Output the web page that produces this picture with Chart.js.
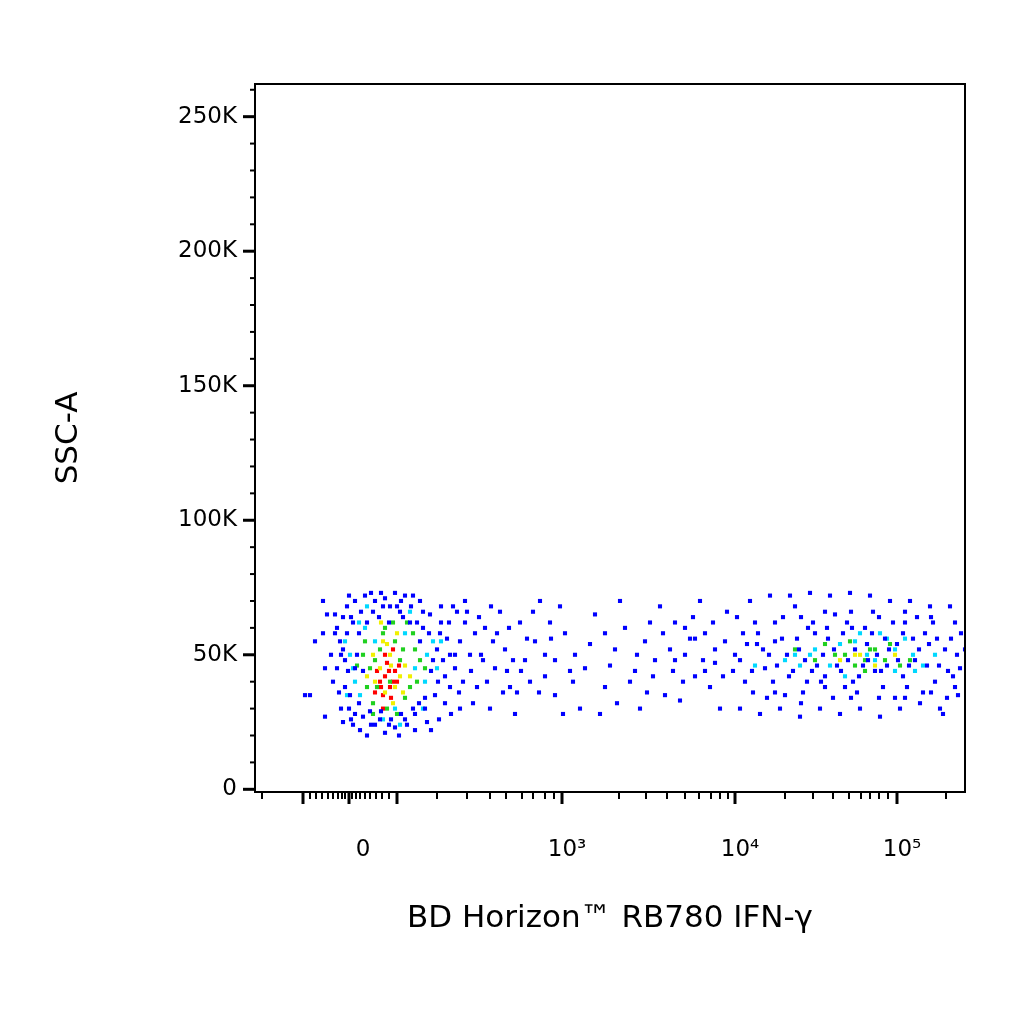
<!DOCTYPE html>
<html>
<head>
<meta charset="utf-8">
<script src="https://cdn.jsdelivr.net/npm/chart.js@4"></script>
<style>
	html, body { margin: 0; padding: 0; background: #fff; }
</style>
</head>
<body>
<canvas id="plot" width="1024" height="1024"></canvas>
<script>
// x is in display channels of the biexponential axis, y (SSC-A) in thousands
const blueDots = [
	[80,65],[85,55],[90,48],[78,40],[95,35],[100,28],[88,25],[105,22],[112,20],[120,24],[130,21],[140,23],[150,26],[160,28],[170,30],[180,35],[190,42],[195,50],[185,58],[175,65],[165,70],[150,72],[140,73],[130,71],[120,70],[110,72],[100,70],[92,68],[82,60],[76,50],[70,45],[68,58],[72,65],[98,62],[104,58],[155,62],[165,55],[178,48],[183,40],[172,25],[160,22],[98,24],[86,30],[200,45],[205,55],[210,62],[198,68],[190,32],[195,38],[208,40],[215,50],[220,58],[212,66],[205,30],[93,44],[84,36],[100,45],[106,66],[145,66],[152,24],[125,26],[115,29],[135,68],
	[50,35],[55,35],[70,27],[68,70],[60,55],
	[88,52],[92,58],[96,64],[102,50],[108,44],[112,62],[118,66],[124,64],[128,68],[134,62],[142,68],[148,64],[156,68],[162,62],[168,60],[174,58],[182,52],[188,48],[176,44],[170,34],[164,32],[158,30],[146,28],[136,26],[126,29],[116,24],[108,27],[94,30],[90,38],[82,45],[86,50],[80,58],[88,64],[94,72],[116,73],[126,73],[146,70],[158,72],[168,66],[186,62],[192,56],[200,50],[204,36],[196,28],[184,26],[176,22],[144,20],[134,24],[104,32],[96,26],[186,68],[194,62],[202,66],[210,70],[216,44],[222,38],[228,48],[224,64],[218,32],[232,40],[236,68],[242,58],[248,36],[254,60],[258,48],[266,44],[272,56],[278,66],[284,36],[296,56],
	[230,60],[240,45],[250,52],[255,38],[265,62],[270,48],[280,55],[290,42],[300,35],[310,58],[320,50],[330,45],[340,65],[350,38],[360,52],[370,60],[380,44],[390,55],[400,48],[410,35],[420,62],[430,50],[440,42],[450,58],[460,47],[470,55],[235,30],[260,28],[285,70],[305,68],[325,30],[345,28],[365,70],[385,30],[405,68],[425,33],[445,70],[465,30],[275,40],[295,62],[315,44],[335,54],[355,46],[375,40],[395,62],[415,52],[435,56],[455,38],[245,66],[300,48],[318,40],[350,58],[382,50],[398,42],[408,58],[418,44],[428,40],[438,64],[448,48],[458,62],[468,42],[472,66],[226,50],[238,55],[252,44],[262,36],[290,50],[308,28],[362,32],[392,36],
	[480,50],[490,40],[500,62],[510,45],[520,55],[530,35],[540,68],[550,48],[560,58],[570,42],[580,65],[590,38],[600,52],[610,60],[620,44],[630,56],[640,34],[650,66],[660,48],[670,58],[680,40],[690,52],[700,62],[705,45],[485,30],[495,70],[505,28],[515,72],[525,30],[535,72],[545,27],[555,73],[565,30],[575,72],[585,28],[595,73],[605,30],[615,72],[625,27],[635,70],[645,30],[655,70],[665,32],[675,68],[685,30],[695,68],[703,35],[710,52],[688,28],[692,34],[478,44],[488,58],[498,36],[508,52],[518,40],[528,64],[538,44],[548,36],[558,62],[568,50],[578,34],[588,58],[598,40],[608,46],[618,66],[628,38],[638,62],[648,42],[658,56],[668,36],[678,62],[698,42],[482,64],[502,54],[512,34],[532,50],[542,56],[552,40],[562,46],[572,60],[582,46],[592,62],[602,36],[612,54],[622,50],[632,46],[642,54],[652,38],[662,64],[672,46],[682,56],[696,56],[706,58],
	[485,48],[492,54],[497,44],[503,58],[514,50],[522,46],[527,56],[534,42],[544,52],[553,60],[557,44],[566,40],[573,56],[579,52],[586,44],[593,48],[597,60],[604,42],[613,48],[617,58],[626,44],[634,52],[643,48],[648,58],[654,46],[664,52],[674,54],[684,46],[693,44],[702,50],[520,62],[546,64],[570,66],[596,66],[624,64],[650,62],[676,64],[520,36],[546,32],[570,38],[596,34],[624,34],[650,34],[676,36],[700,38],[460,52],[450,44],[440,56],[430,60],[420,48],
]
const cyanDots = [
	[95,50],[110,60],[150,58],[160,45],[105,35],[170,40],[140,30],[120,55],[178,55],[100,40],
	[90,55],[98,45],[112,68],[128,26],[155,66],[172,50],[182,45],[104,62],[168,30],[92,35],[186,55],[145,24],
	[540,50],[575,46],[600,55],[620,48],[640,52],[660,44],[590,42],[625,58],[650,56],[560,52],[680,50],[500,46],
	[530,48],[555,50],[585,54],[612,50],[632,56],[658,50],[668,46],[545,46],[605,58],[640,44],
]
const greenDots = [
	[115,45],[125,52],[135,40],[145,48],[155,38],[130,60],[118,32],[160,52],[108,50],[140,55],[150,34],[122,38],[165,48],
	[110,55],[120,48],[128,58],[138,62],[148,52],[158,58],[162,40],[112,38],[118,28],[142,28],[170,45],[102,46],[132,30],[152,62],
	[560,48],[580,50],[600,46],[615,52],[630,48],[645,46],[595,55],[610,44],[570,54],[635,54],
	[590,50],[620,52],[655,48],[540,52],[610,48],
]
const yellowDots = [
	[125,45],[135,50],[130,36],[145,42],[140,38],[120,40],[150,46],[128,55],[138,32],
	[118,50],[126,62],[142,58],[148,36],[132,54],[155,42],[112,42],[136,46],
	[585,48],[605,50],[620,46],[600,50],[640,50],
]
const redDots = [
	[130,42],[135,38],[128,35],[140,44],[132,47],[125,40],[138,40],
	[122,44],[130,50],[136,34],[142,40],[126,38],[134,44],[128,30],[144,46],[120,36],[138,52],
]

const xMajorTicks  = [48, 94, 142, 307, 480, 642]
const xLabels      = { 108 : '0', 312 : '10³', 485 : '10⁴', 647 : '10⁵' }
const xMinorTicks  = [7, 55, 61, 67, 73, 78, 83, 87, 90, 97, 101, 105, 110, 115, 121, 127, 134,
	182, 212, 235, 251, 267, 278, 290, 299,
	364, 391, 412, 430, 444, 456, 465, 473,
	530, 558, 578, 594, 606, 615, 624, 633, 691]
const yMajorTicks  = [0, 50000, 100000, 150000, 200000, 250000]
const yLabels      = ['0', '50K', '100K', '150K', '200K', '250K']
const yMinorTicks  = [10000, 20000, 30000, 40000, 60000, 70000, 80000, 90000, 110000, 120000, 130000, 140000,
	160000, 170000, 180000, 190000, 210000, 220000, 230000, 240000, 260000]

const toPts = (arr) => arr.map(([x, k]) => ({ x : x, y : k * 1000 }))
const dotSet = (arr, colour) => ({
	data            : toPts(arr),
	backgroundColor : colour,
	borderWidth     : 0,
	pointStyle      : 'rect',
	pointRadius     : 2.9,
})

const tickMarks = {
	id : 'tickMarks',
	afterDraw : (chart) => {
		const ctx = chart.ctx
		const xs  = chart.scales.x
		const ys  = chart.scales.y
		ctx.save()
		ctx.strokeStyle = '#000'
		ctx.lineWidth   = 2
		const xb = xs.top
		for ( const v of xMinorTicks ) { const p = xs.getPixelForValue(v); ctx.beginPath(); ctx.moveTo(p, xb); ctx.lineTo(p, xb + 7); ctx.stroke() }
		ctx.lineWidth = 3
		for ( const v of xMajorTicks ) { const p = xs.getPixelForValue(v); ctx.beginPath(); ctx.moveTo(p, xb); ctx.lineTo(p, xb + 12); ctx.stroke() }
		const yr = ys.right
		ctx.lineWidth = 2
		for ( const v of yMinorTicks ) { const p = ys.getPixelForValue(v); ctx.beginPath(); ctx.moveTo(yr, p); ctx.lineTo(yr - 5, p); ctx.stroke() }
		ctx.lineWidth = 3
		for ( const v of yMajorTicks ) { const p = ys.getPixelForValue(v); ctx.beginPath(); ctx.moveTo(yr, p); ctx.lineTo(yr - 12, p); ctx.stroke() }
		ctx.lineWidth = 2
		const a = chart.chartArea
		ctx.strokeRect(a.left, a.top, a.right - a.left, a.bottom - a.top)
		ctx.restore()
	},
}

new Chart(document.getElementById('plot'), {
	type : 'scatter',
	data : {
		datasets : [
			dotSet(blueDots, '#0000ff'),
			dotSet(cyanDots, '#00d8ff'),
			dotSet(greenDots, '#20d020'),
			dotSet(yellowDots, '#f0f000'),
			dotSet(redDots, '#ff0000'),
		],
	},
	options : {
		responsive          : false,
		animation           : false,
		devicePixelRatio    : 1,
		layout              : { padding : { top : 84, right : 59, left : 0, bottom : 0 } },
		plugins             : { legend : { display : false }, tooltip : { enabled : false } },
		scales : {
			x : {
				type   : 'linear',
				min    : 0,
				max    : 710,
				border : { display : false },
				grid   : { display : false, drawTicks : false },
				afterBuildTicks : (s) => { s.ticks = Object.keys(xLabels).map((v) => ({ value : Number(v) })) },
				afterFit : (s) => { s.height = 232 },
				ticks  : {
					autoSkip    : false,
					maxRotation : 0,
					padding     : 44,
					color       : '#000',
					font        : { family : 'DejaVu Sans', size : 23 },
					callback    : (v) => xLabels[v] ?? '',
				},
				title  : {
					display : true,
					text    : 'BD Horizon™ RB780 IFN-γ',
					color   : '#000',
					font    : { family : 'DejaVu Sans', size : 31 },
					padding : { top : 0, bottom : 86 },
				},
			},
			y : {
				type   : 'linear',
				min    : -1000,
				max    : 262144,
				border : { display : false },
				grid   : { display : false, drawTicks : false },
				afterBuildTicks : (s) => { s.ticks = yMajorTicks.map((v) => ({ value : v })) },
				afterFit : (s) => { s.width = 255 },
				ticks  : {
					autoSkip : false,
					padding  : 18,
					color    : '#000',
					font     : { family : 'DejaVu Sans', size : 23 },
					callback : (v) => yLabels[yMajorTicks.indexOf(v)] ?? '',
				},
				title  : {
					display : true,
					text    : 'SSC-A',
					color   : '#000',
					font    : { family : 'DejaVu Sans', size : 31 },
					padding : { top : 50, bottom : 0 },
				},
			},
		},
	},
	plugins : [tickMarks],
})
</script>
</body>
</html>
